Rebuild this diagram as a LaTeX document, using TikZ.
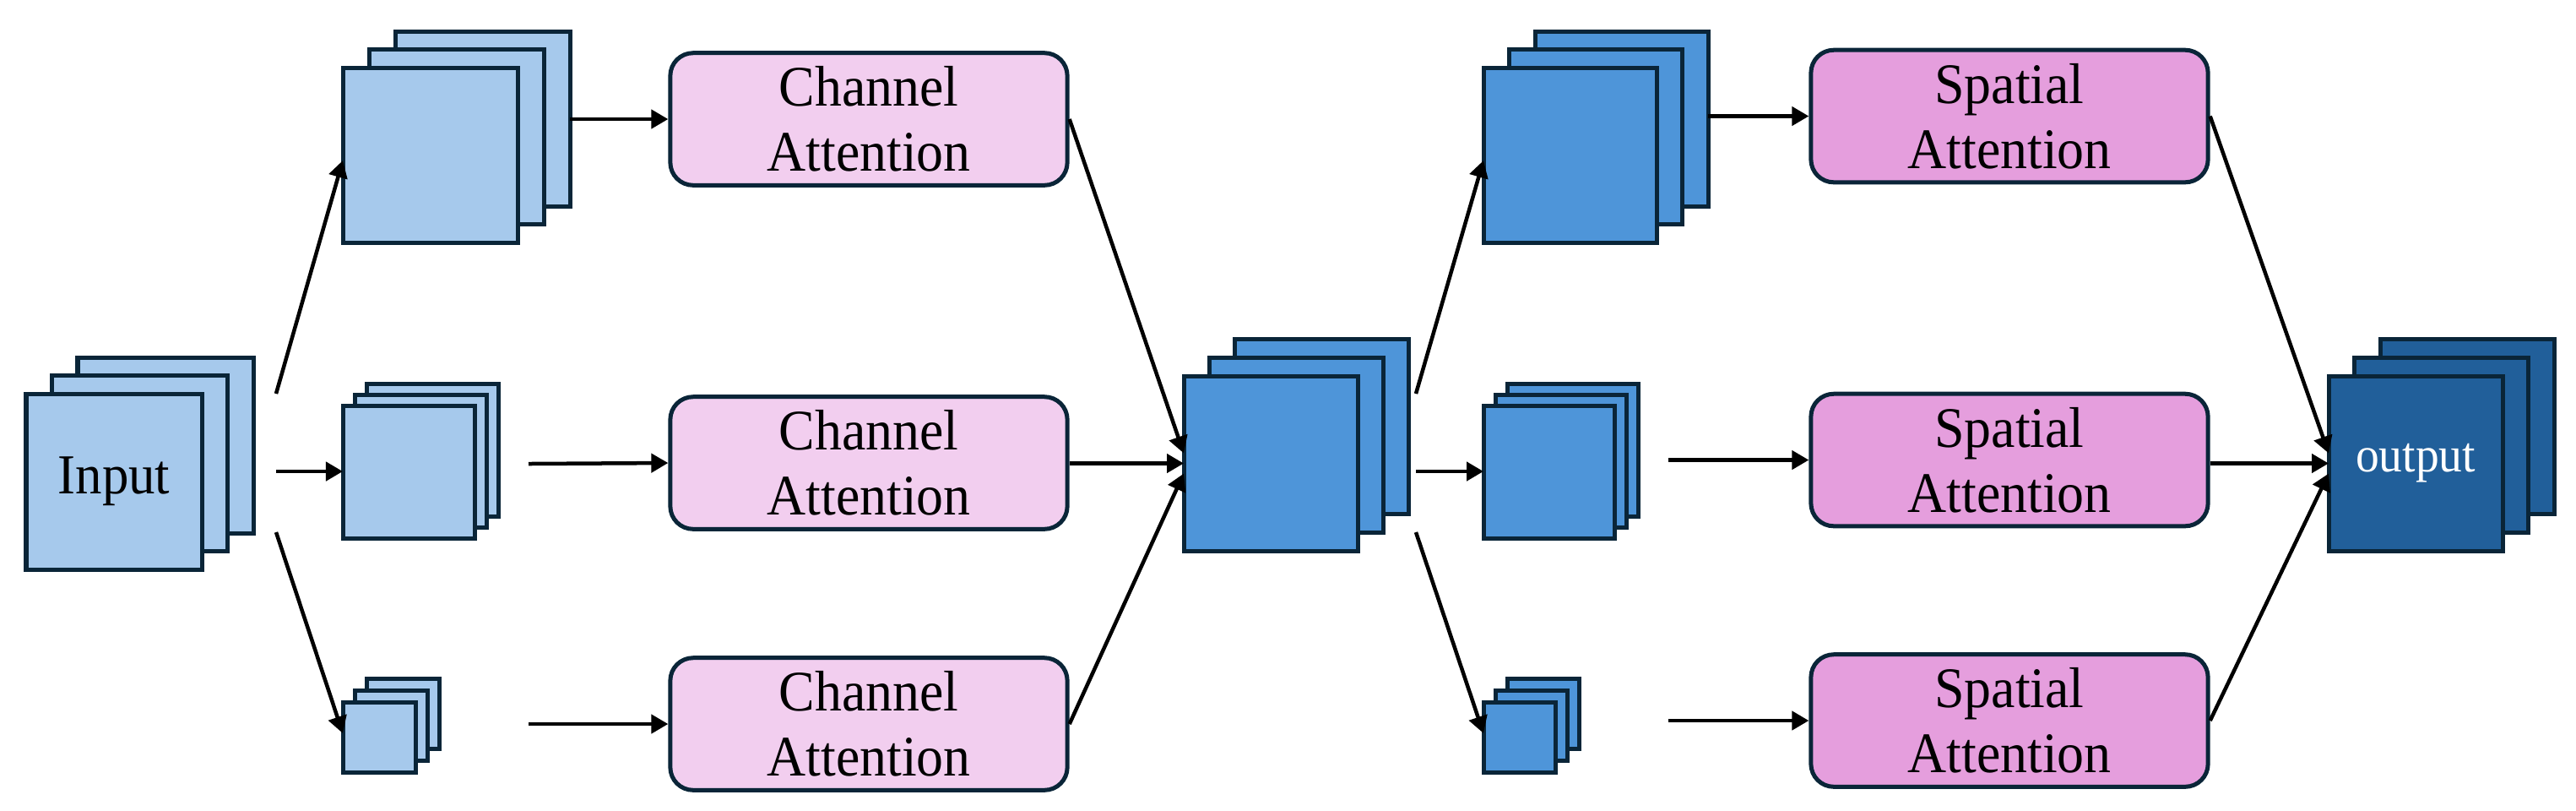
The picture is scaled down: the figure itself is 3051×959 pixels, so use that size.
\documentclass[tikz,border=0pt]{standalone}
\usepackage{fontspec}
\setmainfont[FakeStretch=0.94]{Liberation Serif}
\usetikzlibrary{arrows.meta,calc}
\definecolor{lblue}{HTML}{A6C9EC}
\definecolor{mblue}{HTML}{4E95D9}
\definecolor{dblue}{HTML}{215F9A}
\definecolor{lpink}{HTML}{F2CEEF}
\definecolor{mpink}{HTML}{E59EDD}
\definecolor{navy}{HTML}{0A2538}
\newcommand{\mkstack}[9]{%
  \node[layer, fill=#8, minimum width=#4*0.01cm, minimum height=#5*0.01cm] (#1-b) at (#2+2*#6, #3-2*#7) {};
  \node[layer, fill=#8, minimum width=#4*0.01cm, minimum height=#5*0.01cm] (#1-m) at (#2+#6, #3-#7) {};
  \node[layer, fill=#8, minimum width=#4*0.01cm, minimum height=#5*0.01cm] (#1-f) at (#2, #3) {#9};
}
\begin{document}
\begin{tikzpicture}[x=0.01cm,y=-0.01cm,
  layer/.style={draw=navy, line width=0.05cm, inner sep=0pt, outer sep=0pt, anchor=north west},
  attbox/.style={draw=navy, line width=0.05cm, rounded corners=0.27cm, minimum width=4.7cm,
    minimum height=1.565cm, align=center, inner sep=0pt, font=\fontsize{19.3}{21.9}\selectfont},
  arr/.style={line width=0.045cm, -{Triangle[length=0.2cm,width=0.22cm]}}]
\useasboundingbox (0,0) rectangle (3051,959);

% stacks
\mkstack{in}{31}{466}{208}{208}{30.5}{21.5}{lblue}{\fontsize{19}{22}\selectfont Input}
\mkstack{c1}{406}{80}{207}{207}{31}{21.5}{lblue}{}
\mkstack{c2}{406}{480}{156}{157}{14}{13}{lblue}{}
\mkstack{c3}{406}{831}{86}{83}{14}{14}{lblue}{}
\mkstack{ct}{1402}{445}{206}{207}{30}{22}{mblue}{}
\mkstack{s1}{1757}{80}{205}{207}{30.5}{21.5}{mblue}{}
\mkstack{s2}{1757}{480}{155}{157}{14}{13}{mblue}{}
\mkstack{s3}{1757}{831}{85}{83}{14}{14}{mblue}{}
\mkstack{out}{2758}{445}{206}{207}{30.5}{22}{dblue}{\color{white}\fontsize{16.8}{19}\selectfont output}

% attention boxes
\node[attbox, fill=lpink] (ca1) at (1029,141) {Channel\\Attention};
\node[attbox, fill=lpink] (ca2) at (1029,548) {Channel\\Attention};
\node[attbox, fill=lpink] (ca3) at (1029,857) {Channel\\Attention};
\node[attbox, fill=mpink] (sa1) at (2380,137.5) {Spatial\\Attention};
\node[attbox, fill=mpink] (sa2) at (2380,544.5) {Spatial\\Attention};
\node[attbox, fill=mpink] (sa3) at (2380,853) {Spatial\\Attention};

% arrow start coordinates
\coordinate (i1) at (327,466);
\coordinate (i2) at (327,558);
\coordinate (i3) at (327,630);
\coordinate (c2o) at (626,549);
\coordinate (c3o) at (626,857);
\coordinate (t1) at (1677,466);
\coordinate (t2) at (1677,558);
\coordinate (t3) at (1677,630);
\coordinate (s2o) at (1976,544.5);
\coordinate (s3o) at (1976,853);

% input -> branches
\draw[arr] (i1) -- ($(c1-f.north west)+(0,110)$);
\draw[arr] (i2) -- (c2-f.north west |- i2);
\draw[arr] (i3) -- ($(c3-f.north west)+(0,37)$);
% branches -> channel attention
\draw[arr] (c1-b.east |- ca1) -- (ca1.west);
\draw[arr] (c2o) -- (ca2.west);
\draw[arr] (c3o) -- (ca3.west);
% channel attention -> center
\draw[arr] (ca1.east) -- ($(ct-f.west)+(0,-12)$);
\draw[arr] (ca2.east |- ct-f.west) -- (ct-f.west);
\draw[arr] (ca3.east) -- ($(ct-f.west)+(0,12)$);
% center -> branches
\draw[arr] (t1) -- ($(s1-f.north west)+(0,110)$);
\draw[arr] (t2) -- (s2-f.north west |- t2);
\draw[arr] (t3) -- ($(s3-f.north west)+(0,37)$);
% branches -> spatial attention
\draw[arr] (s1-b.east |- sa1) -- (sa1.west);
\draw[arr] (s2o) -- (sa2.west);
\draw[arr] (s3o) -- (sa3.west);
% spatial attention -> output
\draw[arr] (sa1.east) -- ($(out-f.west)+(0,-12)$);
\draw[arr] (sa2.east |- out-f.west) -- (out-f.west);
\draw[arr] (sa3.east) -- ($(out-f.west)+(0,12)$);
\end{tikzpicture}
\end{document}
